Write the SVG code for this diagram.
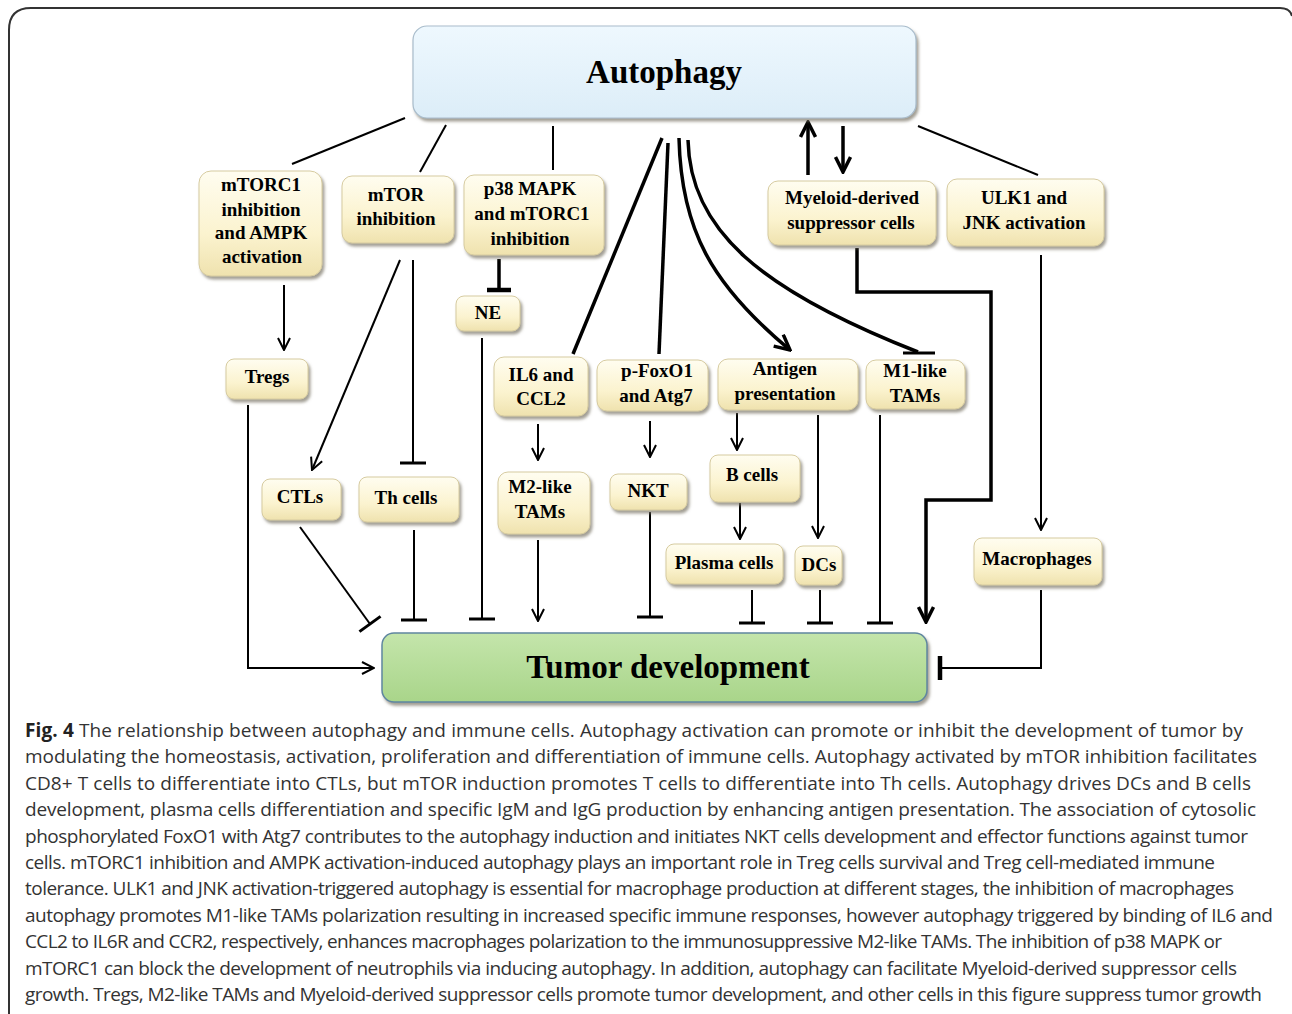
<svg xmlns="http://www.w3.org/2000/svg" width="1292" height="1014" viewBox="0 0 1292 1014">
<defs>
<linearGradient id="gCream" x1="0" y1="0" x2="0" y2="1">
<stop offset="0" stop-color="#fffdf0"/>
<stop offset="0.6" stop-color="#fbf3cf"/>
<stop offset="1" stop-color="#efe2ae"/>
</linearGradient>
<linearGradient id="gBlue" x1="0" y1="0" x2="0" y2="1">
<stop offset="0" stop-color="#eef8fe"/>
<stop offset="1" stop-color="#dcedf8"/>
</linearGradient>
<linearGradient id="gGreen" x1="0" y1="0" x2="0" y2="1">
<stop offset="0" stop-color="#c4e5ab"/>
<stop offset="1" stop-color="#a9d58a"/>
</linearGradient>
<filter id="shadow" x="-10%" y="-10%" width="125%" height="130%">
<feDropShadow dx="2" dy="3" stdDeviation="1.8" flood-color="#7a7566" flood-opacity="0.7"/>
</filter>
<marker id="arr" markerUnits="userSpaceOnUse" viewBox="0 0 14 14" refX="13" refY="7" markerWidth="14" markerHeight="14" orient="auto">
<path d="M1,1 L13,7 L1,13" fill="none" stroke="#000" stroke-width="2"/>
</marker>
<marker id="arrB" markerUnits="userSpaceOnUse" viewBox="0 0 18 18" refX="16" refY="9" markerWidth="18" markerHeight="18" orient="auto">
<path d="M1,1.5 L16,9 L1,16.5" fill="none" stroke="#000" stroke-width="3.5"/>
</marker>
<marker id="tbar" markerUnits="userSpaceOnUse" viewBox="-3 -16 6 32" refX="0" refY="0" markerWidth="6" markerHeight="32" orient="auto">
<path d="M0,-13 V13" fill="none" stroke="#000" stroke-width="3"/>
</marker>
<marker id="tbarB" markerUnits="userSpaceOnUse" viewBox="-4 -16 8 32" refX="0" refY="0" markerWidth="8" markerHeight="32" orient="auto">
<path d="M0,-12 V12" fill="none" stroke="#000" stroke-width="4.5"/>
</marker>
</defs>
<style>
.node rect{fill:url(#gCream);stroke:#d6cba0;stroke-width:1;filter:url(#shadow)}
.node text{font-family:"Liberation Serif","Times New Roman",serif;font-weight:bold;font-size:19px;fill:#000;text-anchor:middle}
.c{fill:none;stroke:#000;stroke-width:2}
.k{fill:none;stroke:#000;stroke-width:3.5}
.bar{fill:none;stroke:#000;stroke-width:3}
.cap{font-family:"Open Sans","Noto Sans",sans-serif;font-size:19px;fill:#333}
</style>
<rect width="1292" height="1014" fill="#fff"/>
<path d="M9,1014 V30 Q9,8 31,8 H1280 Q1290,8 1292,16" fill="none" stroke="#333" stroke-width="2"/>

<g id="connectors">
<line class="c" x1="405" y1="118" x2="292" y2="164"/>
<line class="c" x1="446" y1="125" x2="420" y2="172"/>
<line class="c" x1="553" y1="126" x2="553" y2="170"/>
<line class="k" x1="808" y1="175" x2="808" y2="122" marker-end="url(#arrB)"/>
<line class="k" x1="843" y1="126" x2="843" y2="172" marker-end="url(#arrB)"/>
<line class="c" x1="918" y1="126" x2="1038" y2="175"/>
<line class="k" x1="662" y1="138" x2="573" y2="354"/>
<line class="k" x1="668" y1="143" x2="659" y2="354"/>
<path class="k" d="M679,138 C681,230 712,285 790,350" marker-end="url(#arrB)"/>
<path class="k" d="M688,140 C690,230 760,290 918,352"/>
<line class="bar" x1="903" y1="353" x2="935" y2="353"/>
<line class="c" x1="284" y1="285" x2="284" y2="350" marker-end="url(#arr)"/>
<line class="c" x1="400" y1="260" x2="312" y2="470" marker-end="url(#arr)"/>
<line class="c" x1="413" y1="260" x2="413" y2="463" marker-end="url(#tbar)"/>
<line class="k" x1="499" y1="259" x2="499" y2="290" marker-end="url(#tbarB)"/>
<line class="c" x1="482" y1="338" x2="482" y2="619" marker-end="url(#tbar)"/>
<path class="c" d="M248,405 V668 H374" marker-end="url(#arr)"/>
<line class="c" x1="300" y1="527" x2="370" y2="624" marker-end="url(#tbar)"/>
<line class="c" x1="414" y1="530" x2="414" y2="620" marker-end="url(#tbar)"/>
<line class="c" x1="538" y1="424" x2="538" y2="460" marker-end="url(#arr)"/>
<line class="c" x1="538" y1="540" x2="538" y2="621" marker-end="url(#arr)"/>
<line class="c" x1="650" y1="421" x2="650" y2="457" marker-end="url(#arr)"/>
<line class="c" x1="650" y1="512" x2="650" y2="617" marker-end="url(#tbar)"/>
<line class="c" x1="737" y1="413" x2="737" y2="450" marker-end="url(#arr)"/>
<line class="c" x1="818" y1="415" x2="818" y2="538" marker-end="url(#arr)"/>
<line class="c" x1="740" y1="503" x2="740" y2="539" marker-end="url(#arr)"/>
<line class="c" x1="752" y1="590" x2="752" y2="623" marker-end="url(#tbar)"/>
<line class="c" x1="820" y1="590" x2="820" y2="623" marker-end="url(#tbar)"/>
<line class="c" x1="880" y1="415" x2="880" y2="623" marker-end="url(#tbar)"/>
<path class="k" d="M857,248 V292 H991 V500 H926 V622" marker-end="url(#arrB)"/>
<line class="c" x1="1041" y1="255" x2="1041" y2="530" marker-end="url(#arr)"/>
<path class="c" d="M1041,590 V668 H940" marker-end="url(#tbarB)"/>
</g>

<g id="autophagy">
<rect x="413" y="26" width="503" height="92" rx="14" fill="url(#gBlue)" stroke="#a9bccb" stroke-width="1.2" filter="url(#shadow)"/>
<text x="664" y="83" font-family="Liberation Serif, Times New Roman, serif" font-weight="bold" font-size="33" text-anchor="middle">Autophagy</text>
</g>
<g id="tumor">
<rect x="382" y="633" width="545" height="69" rx="12" fill="url(#gGreen)" stroke="#5f86a0" stroke-width="1.5" filter="url(#shadow)"/>
<text x="668" y="678" font-family="Liberation Serif, Times New Roman, serif" font-weight="bold" font-size="33" text-anchor="middle">Tumor development</text>
</g>

<g id="n-mtorc1-ampk" class="node"><rect x="199" y="171" width="123" height="105" rx="12"/>
<text x="261" y="191">mTORC1</text><text x="261" y="216">inhibition</text><text x="261" y="239">and AMPK</text><text x="262" y="263">activation</text></g>
<g id="n-mtor" class="node"><rect x="342" y="176" width="112" height="67" rx="10"/>
<text x="396" y="201">mTOR</text><text x="396" y="225">inhibition</text></g>
<g id="n-p38" class="node"><rect x="464" y="175" width="140" height="80" rx="10"/>
<text x="530" y="195">p38 MAPK</text><text x="532" y="220">and mTORC1</text><text x="530" y="245">inhibition</text></g>
<g id="n-mdsc" class="node"><rect x="768" y="181" width="168" height="64" rx="10"/>
<text x="852" y="204">Myeloid-derived</text><text x="851" y="229">suppressor cells</text></g>
<g id="n-ulk1" class="node"><rect x="947" y="179" width="157" height="67" rx="10"/>
<text x="1024" y="204">ULK1 and</text><text x="1024" y="229">JNK activation</text></g>
<g id="n-ne" class="node"><rect x="456" y="296" width="64" height="35" rx="8"/>
<text x="488" y="319">NE</text></g>
<g id="n-tregs" class="node"><rect x="226" y="359" width="82" height="40" rx="8"/>
<text x="267" y="383">Tregs</text></g>
<g id="n-il6" class="node"><rect x="494" y="357" width="94" height="59" rx="10"/>
<text x="541" y="381">IL6 and</text><text x="541" y="405">CCL2</text></g>
<g id="n-foxo1" class="node"><rect x="597" y="360" width="111" height="51" rx="10"/>
<text x="657" y="377">p-FoxO1</text><text x="656" y="402">and Atg7</text></g>
<g id="n-antigen" class="node"><rect x="718" y="359" width="140" height="51" rx="10"/>
<text x="785" y="375">Antigen</text><text x="785" y="400">presentation</text></g>
<g id="n-m1" class="node"><rect x="866" y="360" width="99" height="49" rx="10"/>
<text x="915" y="377">M1-like</text><text x="915" y="402">TAMs</text></g>
<g id="n-ctls" class="node"><rect x="262" y="479" width="79" height="41" rx="8"/>
<text x="300" y="503">CTLs</text></g>
<g id="n-th" class="node"><rect x="359" y="477" width="100" height="45" rx="8"/>
<text x="406" y="504">Th cells</text></g>
<g id="n-m2" class="node"><rect x="498" y="472" width="92" height="62" rx="10"/>
<text x="540" y="493">M2-like</text><text x="540" y="518">TAMs</text></g>
<g id="n-nkt" class="node"><rect x="610" y="474" width="77" height="36" rx="8"/>
<text x="648" y="497">NKT</text></g>
<g id="n-bcells" class="node"><rect x="710" y="455" width="90" height="47" rx="8"/>
<text x="752" y="481">B cells</text></g>
<g id="n-plasma" class="node"><rect x="666" y="544" width="117" height="40" rx="8"/>
<text x="724" y="569">Plasma cells</text></g>
<g id="n-dcs" class="node"><rect x="795" y="546" width="47" height="39" rx="8"/>
<text x="819" y="571">DCs</text></g>
<g id="n-macro" class="node"><rect x="974" y="538" width="128" height="47" rx="8"/>
<text x="1037" y="565">Macrophages</text></g>

<g id="caption" class="cap">
<text x="25" y="737" textLength="1218" lengthAdjust="spacing"><tspan font-weight="bold" fill="#222">Fig. 4</tspan> The relationship between autophagy and immune cells. Autophagy activation can promote or inhibit the development of tumor by</text>
<text x="25" y="763" textLength="1232" lengthAdjust="spacing">modulating the homeostasis, activation, proliferation and differentiation of immune cells. Autophagy activated by mTOR inhibition facilitates</text>
<text x="25" y="790" textLength="1226" lengthAdjust="spacing">CD8+ T cells to differentiate into CTLs, but mTOR induction promotes T cells to differentiate into Th cells. Autophagy drives DCs and B cells</text>
<text x="25" y="816" textLength="1231" lengthAdjust="spacing">development, plasma cells differentiation and specific IgM and IgG production by enhancing antigen presentation. The association of cytosolic</text>
<text x="25" y="843" textLength="1223" lengthAdjust="spacing">phosphorylated FoxO1 with Atg7 contributes to the autophagy induction and initiates NKT cells development and effector functions against tumor</text>
<text x="25" y="869" textLength="1190" lengthAdjust="spacing">cells. mTORC1 inhibition and AMPK activation-induced autophagy plays an important role in Treg cells survival and Treg cell-mediated immune</text>
<text x="25" y="895" textLength="1209" lengthAdjust="spacing">tolerance. ULK1 and JNK activation-triggered autophagy is essential for macrophage production at different stages, the inhibition of macrophages</text>
<text x="25" y="922" textLength="1248" lengthAdjust="spacing">autophagy promotes M1-like TAMs polarization resulting in increased specific immune responses, however autophagy triggered by binding of IL6 and</text>
<text x="25" y="948" textLength="1197" lengthAdjust="spacing">CCL2 to IL6R and CCR2, respectively, enhances macrophages polarization to the immunosuppressive M2-like TAMs. The inhibition of p38 MAPK or</text>
<text x="25" y="975" textLength="1212" lengthAdjust="spacing">mTORC1 can block the development of neutrophils via inducing autophagy. In addition, autophagy can facilitate Myeloid-derived suppressor cells</text>
<text x="25" y="1001" textLength="1237" lengthAdjust="spacing">growth. Tregs, M2-like TAMs and Myeloid-derived suppressor cells promote tumor development, and other cells in this figure suppress tumor growth</text>
</g>
</svg>
